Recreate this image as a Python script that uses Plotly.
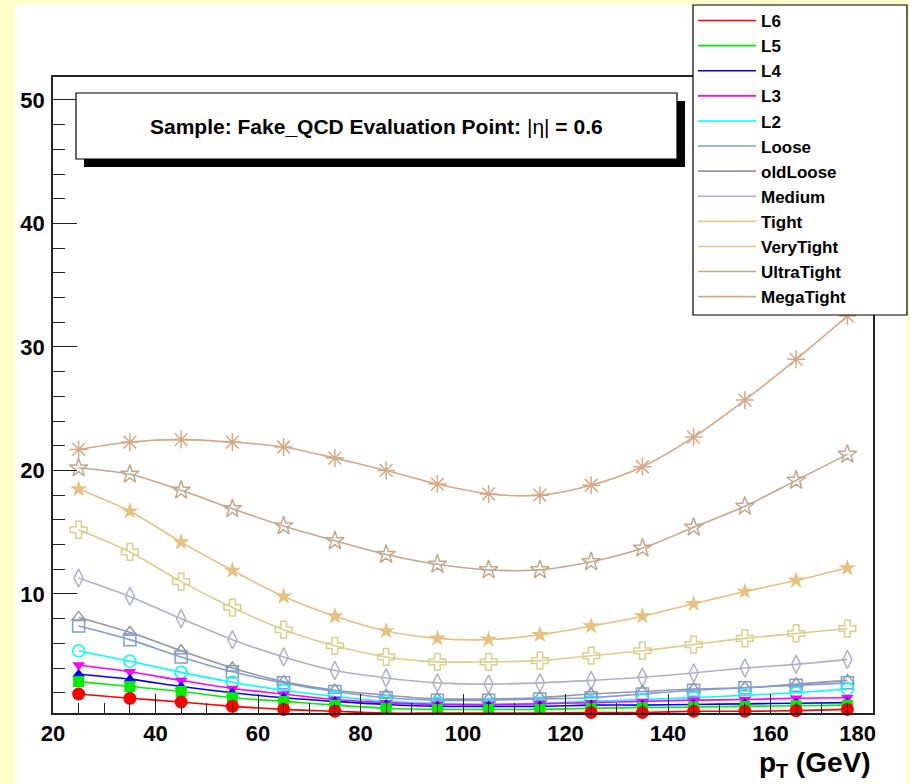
import plotly.graph_objects as go

# pT bin centres (GeV)
pt = [25, 35, 45, 55, 65, 75, 85, 95, 105, 115, 125, 135, 145, 155, 165, 175]

# fake rates per working point
L6 = [1.9, 1.55, 1.25, 0.9, 0.65, 0.5, 0.35, 0.35, 0.35, 0.35, 0.4, 0.4, 0.5, 0.5, 0.55, 0.65]
L5 = [2.9, 2.5, 2.1, 1.6, 1.3, 1.0, 0.75, 0.65, 0.65, 0.65, 0.75, 0.8, 0.85, 0.9, 0.95, 1.0]
L4 = [3.5, 3.1, 2.5, 2.0, 1.6, 1.3, 1.05, 0.9, 0.9, 0.9, 1.0, 1.0, 1.05, 1.1, 1.15, 1.2]
L3 = [4.25, 3.7, 3.0, 2.35, 1.9, 1.45, 1.2, 1.05, 1.05, 1.1, 1.2, 1.3, 1.4, 1.45, 1.55, 1.6]
L2 = [5.4, 4.55, 3.65, 2.85, 2.2, 1.7, 1.3, 1.15, 1.05, 1.15, 1.3, 1.45, 1.6, 1.8, 2.0, 2.3]
Loose = [7.4, 6.3, 4.9, 3.7, 2.8, 2.1, 1.6, 1.4, 1.4, 1.5, 1.6, 1.9, 2.2, 2.4, 2.6, 2.8]
oldLoose = [8.1, 6.9, 5.4, 4.0, 2.9, 2.2, 1.8, 1.5, 1.5, 1.6, 1.9, 2.1, 2.3, 2.4, 2.7, 3.0]
Medium = [11.3, 9.8, 8.0, 6.3, 4.9, 3.8, 3.2, 2.8, 2.7, 2.8, 3.0, 3.25, 3.6, 4.0, 4.3, 4.7]
Tight = [15.2, 13.4, 11.0, 8.9, 7.1, 5.8, 4.9, 4.5, 4.5, 4.6, 5.0, 5.4, 5.9, 6.4, 6.8, 7.2]
VeryTight = [18.5, 16.7, 14.2, 11.9, 9.8, 8.2, 7.0, 6.4, 6.3, 6.7, 7.4, 8.2, 9.2, 10.2, 11.1, 12.1]
UltraTight = [20.2, 19.7, 18.4, 16.9, 15.5, 14.3, 13.2, 12.4, 11.95, 11.95, 12.6, 13.7, 15.4, 17.1, 19.2, 21.3]
MegaTight = [21.7, 22.3, 22.5, 22.3, 21.9, 21.0, 20.0, 18.9, 18.1, 18.0, 18.8, 20.3, 22.7, 25.7, 29.0, 32.5]

x_ticks = [20, 40, 60, 80, 100, 120, 140, 160, 180]
y_ticks = [10, 20, 30, 40, 50]

# name, values, colour, marker symbol, marker size
series = [
    ("L6", L6, "#ff0000", "circle", 13),
    ("L5", L5, "#00ee00", "square", 11),
    ("L4", L4, "#0000ff", "triangle-up", 11),
    ("L3", L3, "#ff00ff", "triangle-down", 11),
    ("L2", L2, "#00ffff", "circle-open", 12),
    ("Loose", Loose, "#7f9fd2", "square-open", 12),
    ("oldLoose", oldLoose, "#9494aa", "triangle-up-open", 12),
    ("Medium", Medium, "#b0b0cc", "diamond-tall-open", 13),
    ("Tight", Tight, "#d8d08c", "cross-open", 14),
    ("VeryTight", VeryTight, "#e8c080", "star", 13),
    ("UltraTight", UltraTight, "#c4a88c", "star-open", 14),
    ("MegaTight", MegaTight, "#d8a884", "asterisk-open", 15),
]

W, H = 910, 784
ML, MR, MT, MB = 53, 37, 77, 71
PW, PH = W - ML - MR, H - MT - MB


def px(xp):
    return (xp - ML) / PW


def py(yp):
    return (H - MB - yp) / PH


fig = go.Figure()

# curves: drawn from the top one down so L6 ends up on top
for name, vals, col, sym, size in reversed(series):
    filled = not sym.endswith("open")
    fig.add_trace(go.Scatter(
        x=pt, y=vals, mode="lines+markers", name=name, showlegend=False,
        line=dict(color=col, width=1.6, shape="spline", smoothing=0.8),
        marker=dict(symbol=sym, size=size, color=col,
                    line=dict(color=col, width=0 if filled else 1.5)),
        cliponaxis=False,
    ))

# legend entries (line only)
for name, vals, col, sym, size in series:
    fig.add_trace(go.Scatter(
        x=[None], y=[None], mode="lines", name=name,
        line=dict(color=col, width=1.6),
    ))

shapes = [
    # white pad area over the yellow canvas
    dict(type="rect", xref="paper", yref="paper", layer="below",
         x0=px(15), x1=px(906), y0=py(784), y1=py(5),
         fillcolor="white", line=dict(width=0)),
    # title box shadow
    dict(type="rect", xref="paper", yref="paper",
         x0=px(84), x1=px(685), y0=py(167), y1=py(101),
         fillcolor="black", line=dict(width=0)),
    # title box
    dict(type="rect", xref="paper", yref="paper",
         x0=px(76), x1=px(677), y0=py(159), y1=py(93),
         fillcolor="white", line=dict(color="black", width=1.2)),
    # legend frame
    dict(type="rect", xref="paper", yref="paper",
         x0=px(693), x1=px(907), y0=py(315), y1=py(5),
         fillcolor="white", line=dict(color="black", width=1.2)),
]

annotations = [
    dict(text="<b>Sample: Fake_QCD Evaluation Point: </b>|\u03b7|<b> = 0.6</b>",
         xref="paper", yref="paper",
         x=px(376.5), y=py(126), xanchor="center", yanchor="middle",
         showarrow=False, font=dict(family="Liberation Sans", size=21, color="black")),
    dict(text="<b>p<sub>T</sub> (GeV)</b>", xref="paper", yref="paper",
         x=1.0, y=py(764), xanchor="right", yanchor="middle",
         showarrow=False, font=dict(family="Liberation Sans", size=28, color="black")),
]

axis_font = dict(family="Liberation Sans", size=22, color="black", weight="bold")

# last x label sits just inside the frame
x_text = [str(v) for v in x_ticks]
x_text[-1] = x_text[-1] + "\u00a0" * 5

fig.update_layout(
    width=W, height=H,
    margin=dict(l=ML, r=MR, t=MT, b=MB, autoexpand=False),
    paper_bgcolor="#ffffcc",
    plot_bgcolor="white",
    shapes=shapes,
    annotations=annotations,
    showlegend=True,
    legend=dict(
        x=px(693), y=py(3), xanchor="left", yanchor="top",
        bgcolor="rgba(0,0,0,0)", borderwidth=0,
        font=dict(family="Liberation Sans", size=17, color="black", weight="bold"),
        tracegroupgap=0, itemwidth=58,
    ),
    xaxis=dict(
        range=[20, 180], tickvals=x_ticks, ticktext=x_text,
        showgrid=False, zeroline=False,
        showline=True, linecolor="#222222", linewidth=1.5, mirror=True,
        ticks="inside", ticklen=19, tickwidth=1.3, tickcolor="#222222",
        minor=dict(dtick=5, tick0=20, ticks="inside", ticklen=10, tickwidth=1.2,
                   tickcolor="#222222", showgrid=False),
        tickfont=axis_font, ticklabelstandoff=0,
    ),
    yaxis=dict(
        range=[0.36, 51.86], tickvals=y_ticks, ticktext=[str(v) for v in y_ticks],
        showgrid=False, zeroline=False,
        showline=True, linecolor="#222222", linewidth=1.5, mirror=True,
        ticks="inside", ticklen=24, tickwidth=1.3, tickcolor="#222222",
        minor=dict(dtick=2, tick0=0, ticks="inside", ticklen=12, tickwidth=1.2,
                   tickcolor="#222222", showgrid=False),
        tickfont=axis_font, ticklabelstandoff=2,
    ),
)

fig.write_html("out.html")
